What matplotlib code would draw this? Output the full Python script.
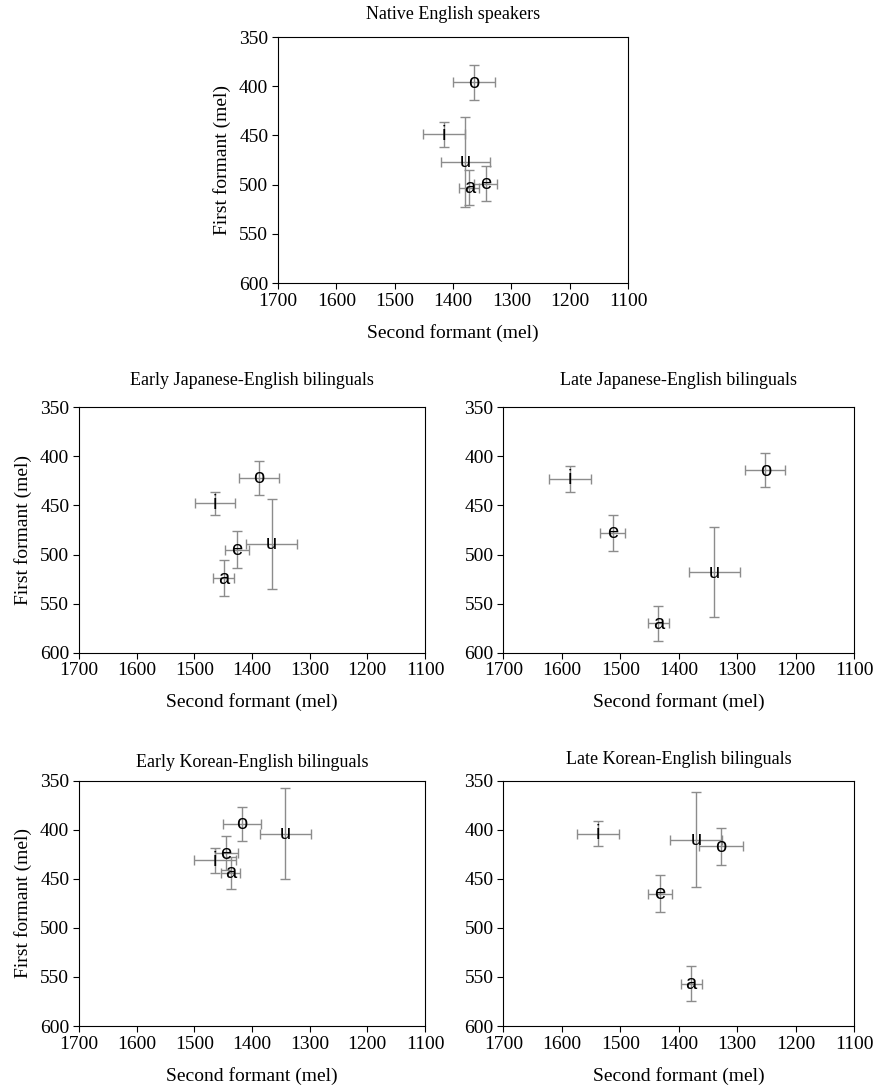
import numpy as np
from matplotlib import pyplot as plt

plt.rcParams['font.family'] = ['Liberation Serif', 'DejaVu Serif']

""" Vowel means and standard errors (mel), order of vowels below """
vowels = ["i", "e", "a", "o", "u"]

native_f2 = [1416, 1344, 1372, 1364, 1379]
native_f1 = [449, 499, 503, 396, 477]
native_f2_err = [36, 20, 17, 35.5, 42]
native_f1_err = [12.7, 17.6, 18, 18, 45.6]

early_je_f2 = [1464, 1426, 1449, 1388, 1366]
early_je_f1 = [448, 495, 524, 422, 489]
early_je_f2_err = [35, 20, 18, 34, 44]
early_je_f1_err = [12, 18.5, 18, 17.5, 46]

late_je_f2 = [1586, 1513, 1435, 1252, 1339]
late_je_f1 = [423, 478, 570, 414, 518]
late_je_f2_err = [36, 21, 17.5, 34, 43]
late_je_f1_err = [13, 18, 17.7, 17.5, 46]

early_ke_f2 = [1464, 1445, 1437, 1418, 1342]
early_ke_f1 = [431, 424, 444, 394, 404]
early_ke_f2_err = [37, 20, 17, 33, 44]
early_ke_f1_err = [12.7, 17.3, 16.5, 17, 46]

late_ke_f2 = [1538, 1432, 1379, 1328, 1370]
late_ke_f1 = [404, 465, 557, 417, 410]
late_ke_f2_err = [36.5, 21, 18, 37, 44.5]
late_ke_f1_err = [13, 18.7, 17.8, 19, 48.6]

titles = ["Native English speakers",
          "Early Japanese-English bilinguals",
          "Late Japanese-English bilinguals",
          "Early Korean-English bilinguals",
          "Late Korean-English bilinguals"]

groups = [(native_f2, native_f1, native_f2_err, native_f1_err),
          (early_je_f2, early_je_f1, early_je_f2_err, early_je_f1_err),
          (late_je_f2, late_je_f1, late_je_f2_err, late_je_f1_err),
          (early_ke_f2, early_ke_f1, early_ke_f2_err, early_ke_f1_err),
          (late_ke_f2, late_ke_f1, late_ke_f2_err, late_ke_f1_err)]

""" axes rectangles in figure fractions (left, bottom, width, height) """
rects = [(0.3177, 0.7394, 0.400, 0.2265),
         (0.0903, 0.3990, 0.3954, 0.2260),
         (0.5752, 0.3990, 0.4011, 0.2260),
         (0.0903, 0.0552, 0.3954, 0.2260),
         (0.5752, 0.0552, 0.4011, 0.2260)]
title_pads = [13, 16, 16, 9.5, 12]

fig = plt.figure(figsize=(8.75, 10.86), dpi=100)

for k in range(5):
    ax = fig.add_axes(rects[k])
    f2, f1, f2e, f1e = groups[k]
    ax.errorbar(f2, f1, xerr=f2e, yerr=f1e, fmt="none", ecolor="#8c8c8c",
                elinewidth=1.0, capsize=3.5, capthick=1.0, zorder=2)
    for v, x, y in zip(vowels, f2, f1):
        ax.text(x, y, v, ha="center", va="center", fontsize=14.5,
                family=["Liberation Sans", "DejaVu Sans"], color="black", zorder=3)
    ax.set_xlim(1700, 1100)
    ax.set_ylim(600, 350)
    ax.set_xticks(np.arange(1700, 1099, -100))
    ax.set_yticks(np.arange(350, 601, 50))
    ax.tick_params(direction="out", length=4, width=0.8, labelsize=14, pad=3)
    for s in ax.spines.values():
        s.set_linewidth(0.8)
    ax.set_title(titles[k], fontsize=13, pad=title_pads[k])
    ax.set_xlabel("Second formant (mel)", fontsize=14, labelpad=10)
    if k in (0, 1, 3):
        ax.set_ylabel("First formant (mel)", fontsize=14, labelpad=6)

fig.savefig("out.png", dpi=100)
